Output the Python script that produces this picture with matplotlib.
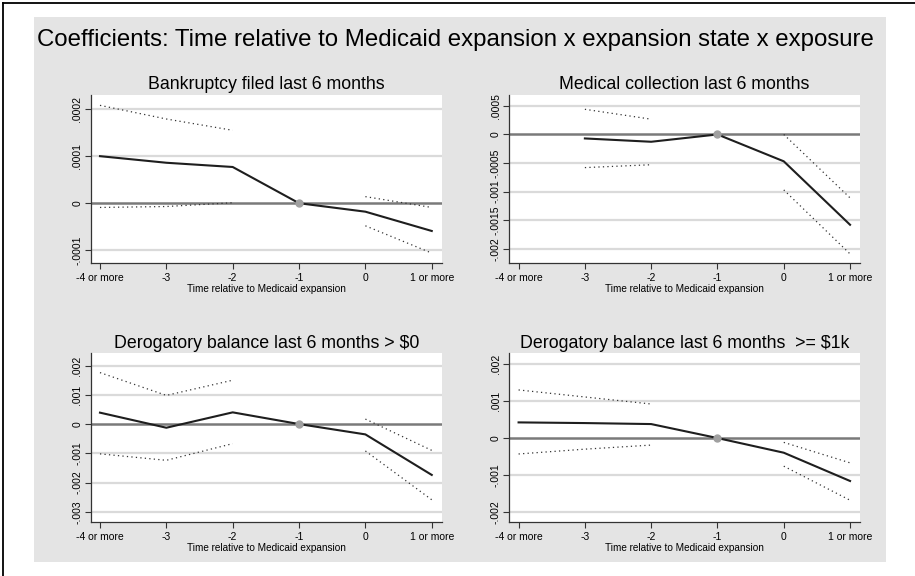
import numpy as np
import matplotlib
matplotlib.use("Agg")
from matplotlib import pyplot as plt
from matplotlib.patches import Rectangle
from matplotlib.lines import Line2D

nan = np.nan

periods = [-4, -3, -2, -1, 0, 1]
period_labels = ["-4 or more", "-3", "-2", "-1", "0", "1 or more"]

suptitle = "Coefficients: Time relative to Medicaid expansion x expansion state x exposure"
xlabel = "Time relative to Medicaid expansion"

# Bankruptcy filed last 6 months
bankr_title = "Bankruptcy filed last 6 months"
bankr_coef = [1.00e-4, 0.86e-4, 0.77e-4, 0.0, -0.18e-4, -0.59e-4]
bankr_hi = [2.08e-4, 1.79e-4, 1.55e-4, nan, 0.14e-4, -0.09e-4]
bankr_lo = [-0.09e-4, -0.07e-4, 0.01e-4, nan, -0.48e-4, -1.06e-4]
bankr_ticks = [-0.0001, 0, 0.0001, 0.0002]
bankr_ticklabels = ["-.0001", "0", ".0001", ".0002"]

# Medical collection last 6 months (no estimate for -4 or more)
medcol_title = "Medical collection last 6 months"
medcol_coef = [nan, -0.00007, -0.000128, 0.0, -0.00047, -0.00158]
medcol_hi = [nan, 0.00044, 0.000267, nan, 0.0, -0.00111]
medcol_lo = [nan, -0.00058, -0.00053, nan, -0.00097, -0.00209]
medcol_ticks = [-0.002, -0.0015, -0.001, -0.0005, 0, 0.0005]
medcol_ticklabels = ["-.002", "-.0015", "-.001", "-.0005", "0", ".0005"]

# Derogatory balance > $0
derog0_title = "Derogatory balance last 6 months > $0"
derog0_coef = [0.00039, -0.000126, 0.0004, 0.0, -0.000354, -0.00174]
derog0_hi = [0.00176, 0.00098, 0.0015, nan, 0.00017, -0.0009]
derog0_lo = [-0.00102, -0.00124, -0.00067, nan, -0.00092, -0.00259]
derog0_ticks = [-0.003, -0.002, -0.001, 0, 0.001, 0.002]
derog0_ticklabels = ["-.003", "-.002", "-.001", "0", ".001", ".002"]

# Derogatory balance >= $1k
derog1k_title = "Derogatory balance last 6 months  >= $1k"
derog1k_coef = [0.000423, 0.000405, 0.000378, 0.0, -0.000396, -0.00116]
derog1k_hi = [0.0013, 0.00111, 0.00092, nan, -0.000117, -0.00067]
derog1k_lo = [-0.00043, -0.0003, -0.00019, nan, -0.00076, -0.00168]
derog1k_ticks = [-0.002, -0.001, 0, 0.001, 0.002]
derog1k_ticklabels = ["-.002", "-.001", "0", ".001", ".002"]

ref_period = -1

plt.rcParams['font.family'] = ['Liberation Sans', 'DejaVu Sans']

W, H = 915, 576
fig = plt.figure(figsize=(W / 100, H / 100), dpi=100)
fig.patch.set_facecolor("white")


def px_box(x0, y0, x1, y1):
    # pixel box (top-left origin) -> figure fraction [l, b, w, h]
    return [x0 / W, 1 - y1 / H, (x1 - x0) / W, (y1 - y0) / H]


# grey graph region and the screenshot frame
fig.add_artist(Rectangle((34 / W, 1 - 562 / H), (886 - 34) / W, (562 - 17) / H,
                         transform=fig.transFigure, facecolor="#e4e4e4",
                         edgecolor="none", zorder=0))
fig.add_artist(Line2D([3 / W, 3 / W], [0, 1 - 3 / H], transform=fig.transFigure,
                      color="black", lw=1.3))
fig.add_artist(Line2D([3 / W, 1], [1 - 3 / H, 1 - 3 / H], transform=fig.transFigure,
                      color="black", lw=1.3))

fig.text(455 / W, 1 - 40 / H, suptitle, ha="center", va="center", fontsize=17.3,
         color="black")

panels = [
    (px_box(90.7, 95, 441.7, 262.5), bankr_title, bankr_coef, bankr_hi, bankr_lo,
     bankr_ticks, bankr_ticklabels, (-0.000126, 0.00023)),
    (px_box(509.3, 95, 860, 262.5), medcol_title, medcol_coef, medcol_hi, medcol_lo,
     medcol_ticks, medcol_ticklabels, (-0.00224, 0.00069)),
    (px_box(90.7, 353.3, 441.7, 521.7), derog0_title, derog0_coef, derog0_hi, derog0_lo,
     derog0_ticks, derog0_ticklabels, (-0.00334, 0.00242)),
    (px_box(509.3, 353.3, 860, 521.7), derog1k_title, derog1k_coef, derog1k_hi, derog1k_lo,
     derog1k_ticks, derog1k_ticklabels, (-0.00226, 0.00229)),
]

for box, title, coef, hi, lo, yt, ytl, ylim in panels:
    ax = fig.add_axes(box)
    ax.set_facecolor("white")
    ax.set_xlim(-4.14, 1.15)
    ax.set_ylim(*ylim)

    for t in yt:
        if t == 0:
            ax.axhline(0, color="#7a7a7a", lw=1.8, zorder=1)
        else:
            ax.axhline(t, color="#dadada", lw=1.6, zorder=1)

    ax.plot(periods, hi, color="#333333", lw=0.9, ls=(0, (1, 2.6)), zorder=2)
    ax.plot(periods, lo, color="#333333", lw=0.9, ls=(0, (1, 2.6)), zorder=2)
    ax.plot(periods, coef, color="#1e1e1e", lw=1.5, zorder=3)
    ax.plot([ref_period], [coef[periods.index(ref_period)]], "o", color="#a0a0a0",
            ms=5, zorder=4)

    ax.set_xticks(periods)
    ax.set_xticklabels(period_labels, fontsize=7.5)
    ax.set_yticks(yt)
    ax.set_yticklabels(ytl, fontsize=7.5, rotation=90, va="center")
    ax.tick_params(axis="x", length=4, width=0.8, color="#333333", pad=3.5)
    ax.tick_params(axis="y", length=4, width=0.8, color="#333333", pad=2)

    for side in ("top", "right"):
        ax.spines[side].set_visible(False)
    for side in ("left", "bottom"):
        ax.spines[side].set_color("#333333")
        ax.spines[side].set_linewidth(0.9)

    ax.set_xlabel(xlabel, fontsize=7.2, labelpad=0.5)
    ax.set_title(title, fontsize=12.8, pad=4)

fig.savefig("out.png", dpi=100)
